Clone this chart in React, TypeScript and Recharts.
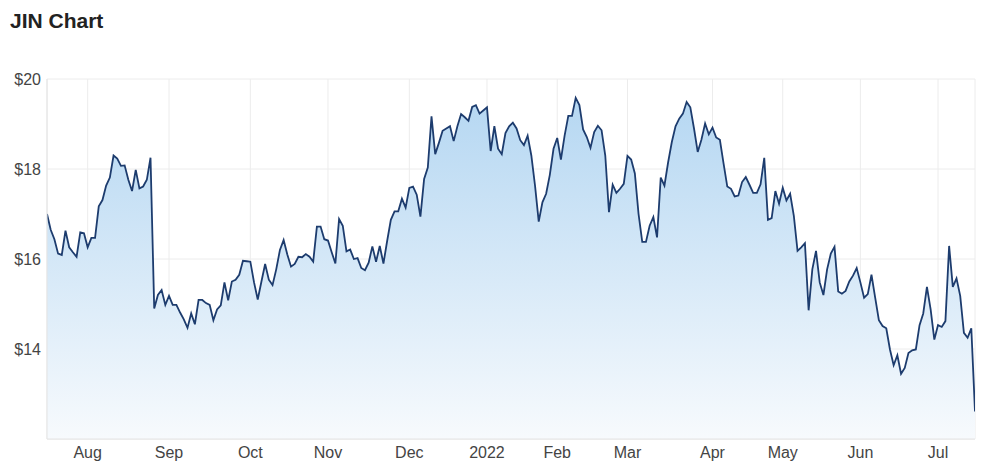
import React from 'react';
import { AreaChart, Area, XAxis, YAxis, CartesianGrid } from 'recharts';

const prices: number[] = [
  17.0, 16.65, 16.44, 16.12, 16.09, 16.63, 16.26, 16.15, 16.05, 16.59,
  16.57, 16.26, 16.47, 16.47, 17.17, 17.31, 17.63, 17.81, 18.30, 18.23,
  18.07, 18.08, 17.76, 17.51, 17.98, 17.57, 17.61, 17.76, 18.25, 14.90,
  15.20, 15.31, 14.98, 15.18, 14.98, 14.98, 14.81, 14.66, 14.47, 14.79,
  14.55, 15.09, 15.09, 15.02, 14.98, 14.64, 14.88, 14.97, 15.48, 15.08,
  15.50, 15.54, 15.65, 15.96, 15.95, 15.94, 15.48, 15.10, 15.50, 15.89,
  15.54, 15.42, 15.77, 16.20, 16.42, 16.10, 15.83, 15.89, 16.05, 16.04,
  16.11, 16.05, 15.94, 16.72, 16.72, 16.44, 16.41, 16.15, 15.90, 16.89,
  16.74, 16.17, 16.21, 16.00, 16.02, 15.80, 15.75, 15.92, 16.28, 15.94,
  16.29, 15.90, 16.40, 16.87, 17.06, 17.06, 17.34, 17.14, 17.58, 17.61,
  17.43, 16.94, 17.78, 18.03, 19.17, 18.33, 18.58, 18.85, 18.90, 18.95,
  18.62, 18.95, 19.22, 19.15, 19.07, 19.38, 19.42, 19.23, 19.30, 19.37,
  18.40, 18.95, 18.45, 18.33, 18.80, 18.95, 19.03, 18.90, 18.64, 18.53,
  18.74, 18.30, 17.63, 16.83, 17.26, 17.45, 17.87, 18.45, 18.69, 18.21,
  18.74, 19.18, 19.18, 19.58, 19.42, 18.88, 18.71, 18.47, 18.82, 18.96,
  18.86, 18.30, 17.04, 17.65, 17.47, 17.56, 17.67, 18.29, 18.21, 17.90,
  17.00, 16.38, 16.38, 16.74, 16.93, 16.48, 17.81, 17.63, 18.15, 18.60,
  18.95, 19.12, 19.23, 19.49, 19.37, 18.90, 18.38, 18.65, 19.01, 18.77,
  18.92, 18.70, 18.65, 18.12, 17.61, 17.56, 17.39, 17.41, 17.71, 17.82,
  17.65, 17.47, 17.47, 17.66, 18.25, 16.87, 16.91, 17.51, 17.23, 17.58,
  17.30, 17.45, 16.96, 16.18, 16.26, 16.35, 14.86, 15.77, 16.18, 15.48,
  15.20, 15.77, 16.12, 16.27, 15.28, 15.23, 15.29, 15.50, 15.63, 15.80,
  15.48, 15.14, 15.22, 15.65, 15.14, 14.64, 14.51, 14.46, 13.99, 13.64,
  13.86, 13.45, 13.58, 13.91, 13.97, 13.99, 14.53, 14.79, 15.38, 14.88,
  14.21, 14.53, 14.49, 14.62, 16.29, 15.38, 15.57, 15.18, 14.36, 14.25,
  14.46, 12.61,
];

const monthTickIndex: number[] = [11, 33, 55, 76, 98, 119, 138, 157, 180, 199, 220, 241];
const monthLabels: string[] = ['Aug', 'Sep', 'Oct', 'Nov', 'Dec', '2022', 'Feb', 'Mar', 'Apr', 'May', 'Jun', 'Jul'];
const priceTicks: number[] = [12, 14, 16, 18, 20];

const data = prices.map((p, i) => ({ i, price: p }));

const FONT = '"Liberation Sans", Arial, Helvetica, sans-serif';

export default function App() {
  return (
    <div
      style={{
        position: 'absolute',
        left: 0,
        top: 0,
        width: 1000,
        height: 472,
        background: '#ffffff',
        fontFamily: FONT,
      }}
    >
      <div
        style={{
          position: 'absolute',
          left: 10,
          top: 10,
          fontSize: 21,
          lineHeight: '21px',
          fontWeight: 700,
          color: '#222222',
          fontFamily: FONT,
        }}
      >
        JIN Chart
      </div>
      <div style={{ position: 'absolute', left: 0, top: 0 }}>
        <AreaChart
          width={1000}
          height={472}
          data={data}
          margin={{ top: 79, right: 25, bottom: 0, left: 0 }}
        >
          <defs>
            <linearGradient id="jinFill" x1="0" y1="0" x2="0" y2="1">
              <stop offset="0%" stopColor="#b5d7f2" stopOpacity={1} />
              <stop offset="100%" stopColor="#f7fafd" stopOpacity={1} />
            </linearGradient>
          </defs>
          <CartesianGrid stroke="#ececec" strokeWidth={1} />
          <XAxis
            dataKey="i"
            type="number"
            domain={[0, prices.length - 1]}
            ticks={monthTickIndex}
            tickFormatter={(v: number) => monthLabels[monthTickIndex.indexOf(v)] ?? ''}
            interval={0}
            height={33}
            tickSize={0}
            tickMargin={8}
            axisLine={{ stroke: '#e4e4e4' }}
            tickLine={false}
            tick={{ fill: '#444444', fontSize: 16, fontFamily: FONT }}
            allowDataOverflow
          />
          <YAxis
            type="number"
            domain={[12, 20]}
            ticks={priceTicks}
            tickFormatter={(v: number) => (v === 12 ? '' : `$${v}`)}
            width={47}
            tickSize={0}
            tickMargin={6}
            axisLine={{ stroke: '#e4e4e4' }}
            tickLine={false}
            tick={{ fill: '#444444', fontSize: 16, fontFamily: FONT }}
            allowDataOverflow
          />
          <Area
            type="linear"
            dataKey="price"
            stroke="#1d3c6e"
            strokeWidth={1.8}
            fill="url(#jinFill)"
            fillOpacity={1}
            baseValue={12}
            isAnimationActive={false}
            dot={false}
            activeDot={false}
          />
        </AreaChart>
      </div>
    </div>
  );
}
